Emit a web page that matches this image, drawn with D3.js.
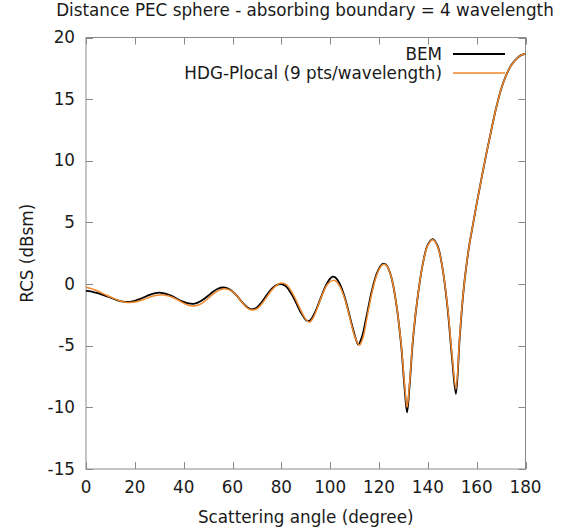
<!DOCTYPE html>
<html><head><meta charset="utf-8">
<script src="https://cdn.jsdelivr.net/npm/d3@7"></script>
<style>body{margin:0;background:#fff}svg{display:block}text{font-family:"DejaVu Sans",sans-serif;fill:#1a1a1a}</style>
</head><body>
<svg id="c" width="563" height="531"></svg>
<script>
const title = "Distance PEC sphere - absorbing boundary = 4 wavelength";
const xLabel = "Scattering angle (degree)";
const yLabel = "RCS (dBsm)";
const seriesNames = ["BEM", "HDG-Plocal (9 pts/wavelength)"];
const xTicks = [0,20,40,60,80,100,120,140,160,180];
const yTicks = [-15,-10,-5,0,5,10,15,20];

const bemAngle = [0,2,4,6,8,10,12,14,16,18,20,22,24,26,28,30,32,34,36,38,40,42,44,46,48,50,52,54,56,58,60,62,64,66,68,70,72,74,76,78,80,82,84,86,88,90,91,92,94,96,98,100,101,102,104,106,108,110,111.5,113,115,117,119,121,122,123,125,127,129,130.5,131.5,132.5,134,136,138,140,142,144,146,148,150,151.5,153,154,155,156,157,158,160,162,164,166,168,170,172,174,176,178,180];
const bemRcs = [-0.55,-0.6,-0.7,-0.82,-0.95,-1.1,-1.25,-1.38,-1.45,-1.44,-1.36,-1.22,-1.05,-0.88,-0.75,-0.7,-0.75,-0.88,-1.05,-1.27,-1.45,-1.57,-1.6,-1.48,-1.25,-0.95,-0.62,-0.38,-0.28,-0.35,-0.6,-1.0,-1.48,-1.88,-2.05,-1.9,-1.45,-0.9,-0.4,-0.08,0.0,-0.2,-0.75,-1.5,-2.3,-2.9,-3.0,-2.9,-2.2,-1.2,-0.2,0.45,0.6,0.55,0.0,-1.1,-2.6,-4.1,-4.9,-4.3,-2.5,-0.6,0.8,1.55,1.65,1.55,0.6,-1.5,-4.8,-8.5,-10.4,-8.3,-4.3,-0.8,1.7,3.2,3.65,3.1,1.3,-1.8,-6.2,-8.9,-4.5,-1.9,0.2,1.8,3.2,4.3,6.5,8.6,10.6,12.5,14.3,15.8,16.9,17.7,18.2,18.55,18.7];

const hdgAngle = [0,2,4,6,8,10,12,14,16,18,20,22,24,26,28,30,32,34,36,38,40,42,44,46,48,50,52,54,56,58,60,62,64,66,68,70,72,74,76,78,80,82,84,86,88,90,91.5,93,95,97,99,101,102,104,106,108,110,112,113.5,115,117,119,121,122,123,125,127,129,130.5,131.5,132.5,134,136,138,140,142,144,146,148,150,151.5,153,154,155,156,157,158,160,162,164,166,168,170,172,174,176,178,180];
const hdgRcs = [-0.25,-0.35,-0.5,-0.68,-0.87,-1.05,-1.22,-1.37,-1.47,-1.5,-1.46,-1.36,-1.22,-1.07,-0.95,-0.88,-0.88,-0.97,-1.13,-1.33,-1.55,-1.72,-1.78,-1.7,-1.48,-1.17,-0.82,-0.55,-0.4,-0.42,-0.62,-1.0,-1.5,-1.93,-2.1,-2.0,-1.6,-1.05,-0.5,-0.1,0.08,-0.05,-0.55,-1.3,-2.15,-2.85,-3.1,-2.75,-1.8,-0.75,0.0,0.3,0.28,-0.2,-1.2,-2.7,-4.2,-4.95,-4.3,-2.8,-0.8,0.7,1.5,1.6,1.52,0.6,-1.5,-4.7,-8.2,-10.0,-8.1,-4.2,-0.8,1.7,3.15,3.6,3.05,1.3,-1.7,-5.9,-8.5,-4.4,-1.8,0.2,1.8,3.2,4.3,6.5,8.6,10.6,12.5,14.3,15.8,16.9,17.7,18.2,18.55,18.7];

const svg = d3.select("#c");
const m = {l:86, r:525.5, t:37.5, b:469};
const x = d3.scaleLinear().domain([0,180]).range([m.l, m.r]);
const y = d3.scaleLinear().domain([-15,20]).range([m.b, m.t]);
const grid = "#8a8a8a", tl = 7, fs = 16.8;

// ticks (inward, mirrored)
const tg = svg.append("g").attr("stroke", grid).attr("stroke-width", 1);
xTicks.forEach(v => {
  const px = Math.round(x(v)) + 0.5;
  tg.append("line").attr("x1", px).attr("x2", px).attr("y1", m.b).attr("y2", m.b - tl);
  tg.append("line").attr("x1", px).attr("x2", px).attr("y1", m.t).attr("y2", m.t + tl);
});
yTicks.forEach(v => {
  const py = Math.round(y(v)) + 0.5;
  tg.append("line").attr("x1", m.l).attr("x2", m.l + tl).attr("y1", py).attr("y2", py);
  tg.append("line").attr("x1", m.r).attr("x2", m.r - tl).attr("y1", py).attr("y2", py);
});
svg.append("rect").attr("x", m.l).attr("y", m.t).attr("width", m.r - m.l).attr("height", m.b - m.t)
  .attr("fill", "none").attr("stroke", grid).attr("stroke-width", 1);

// tick labels
xTicks.forEach(v => svg.append("text").attr("x", x(v)).attr("y", 493).attr("text-anchor", "middle").attr("font-size", fs).text(v));
yTicks.forEach(v => svg.append("text").attr("x", 75).attr("y", y(v) + 5.5).attr("text-anchor", "end").attr("font-size", fs).text(v));

// titles
svg.append("text").attr("x", 305).attr("y", 16).attr("text-anchor", "middle").attr("font-size", fs).text(title);
svg.append("text").attr("x", (m.l + m.r) / 2).attr("y", 523).attr("text-anchor", "middle").attr("font-size", fs).text(xLabel);
svg.append("text").attr("transform", `translate(33,${(m.t + m.b) / 2}) rotate(-90)`).attr("text-anchor", "middle").attr("font-size", fs).text(yLabel);

// lines
svg.append("clipPath").attr("id", "pc").append("rect").attr("x", m.l).attr("y", m.t).attr("width", m.r - m.l).attr("height", m.b - m.t);
const line = d3.line().x(d => x(d[0])).y(d => y(d[1])).curve(d3.curveCatmullRom.alpha(0.5));
const colors = ["#000000", "#f0862a"];
const widths = [1.8, 1.5];
const data = [d3.zip(bemAngle, bemRcs), d3.zip(hdgAngle, hdgRcs)];
data.forEach((d, i) => {
  svg.append("path").attr("d", line(d)).attr("fill", "none").attr("stroke", colors[i]).attr("stroke-width", widths[i]).attr("clip-path", "url(#pc)");
});

// legend
seriesNames.forEach((n, i) => {
  const ly = 54 + i * 19;
  svg.append("text").attr("x", 442).attr("y", ly + 5.5).attr("text-anchor", "end").attr("font-size", fs).text(n);
  svg.append("line").attr("x1", 453).attr("x2", 505).attr("y1", ly).attr("y2", ly).attr("stroke", colors[i]).attr("stroke-width", widths[i]);
});
</script>
</body></html>
